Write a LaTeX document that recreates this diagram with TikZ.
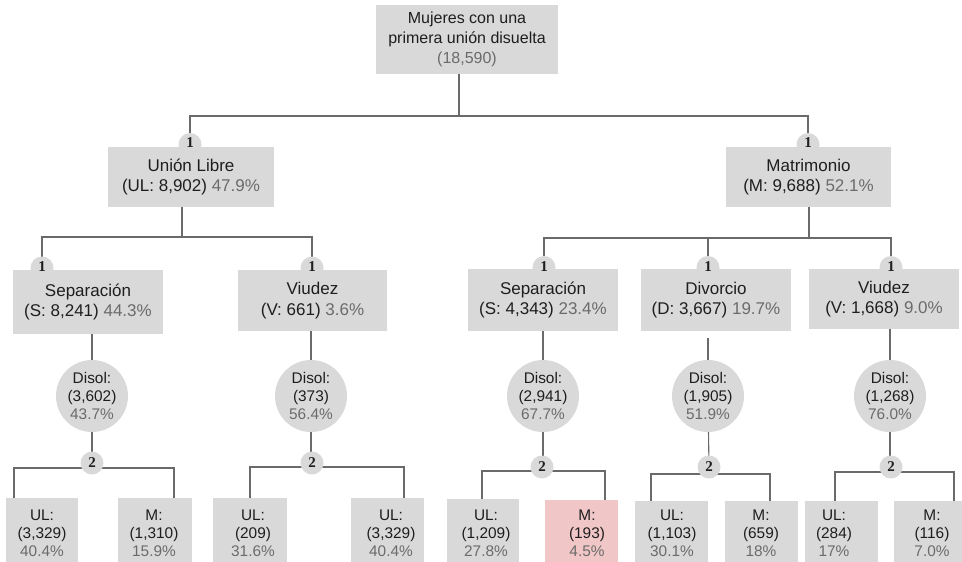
\documentclass[tikz,border=0pt]{standalone}
\usepackage{fontspec}
\setmainfont{Liberation Sans}
\newfontfamily\badgefont{Liberation Serif}
\usetikzlibrary{backgrounds}
\definecolor{boxg}{HTML}{D9D9D9}
\definecolor{pctg}{HTML}{6B6B6B}
\definecolor{pinkb}{HTML}{F0C6C6}
\definecolor{lineg}{HTML}{6A6A6A}
\definecolor{txt}{HTML}{1E1E1E}
\newcommand\pctxt[1]{\textcolor{pctg}{#1}}
\newcommand\ftop{\fontsize{16}{20}\selectfont}
\newcommand\fmid{\fontsize{17}{20.5}\selectfont}
\newcommand\fsmall{\fontsize{15.4}{18}\selectfont}
\newcommand\fbadge{\fontsize{15}{15}\badgefont\bfseries\selectfont}
\begin{document}
\begin{tikzpicture}[x=1pt,y=-1pt,
  conn/.style={draw=lineg, line width=1.1pt},
  gbox/.style={fill=boxg, inner sep=0pt, align=center, text=txt},
  topbox/.style={gbox, font=\ftop},
  midbox/.style={gbox, font=\fmid, minimum height=#1},
  disol/.style={circle, fill=boxg, inner sep=0pt, minimum size=72pt, align=center, text=txt, font=\fsmall},
  badge/.style={circle, fill=boxg, inner sep=0pt, minimum size=23pt, text=txt, font=\fbadge},
  leafbox/.style={fill=boxg, inner sep=0pt},
  leaftxt/.style={inner sep=0pt, align=center, text=txt, font=\fsmall},
]
\useasboundingbox (0,0) rectangle (962,562);

% ---------- top and level 1 ----------
\node[topbox, minimum width=182pt, minimum height=69pt] (top) at (467,39.5)
  {Mujeres con una\\primera unión disuelta\\\pctxt{(18,590)}};
\node[midbox=60pt, minimum width=166pt] (ul) at (191,177)
  {Unión Libre\\(UL: 8,902) \pctxt{47.9\%}};
\node[midbox=60pt, minimum width=165pt] (mat) at (808.5,177)
  {Matrimonio\\(M: 9,688) \pctxt{52.1\%}};
\node[badge] (b-ul) at (190,144.5) {\raisebox{3pt}{1}};
\node[badge] (b-mat) at (808,144.5) {\raisebox{3pt}{1}};

% ---------- level 2 ----------
\node[midbox=64pt, minimum width=150pt] (sepL) at (88,302)
  {Separación\\(S: 8,241) \pctxt{44.3\%}};
\node[midbox=61pt, minimum width=149pt] (viuL) at (312.5,300.5)
  {Viudez\\(V: 661) \pctxt{3.6\%}};
\node[midbox=62pt, minimum width=150pt] (sepR) at (543,300)
  {Separación\\(S: 4,343) \pctxt{23.4\%}};
\node[midbox=62pt, minimum width=150pt] (div) at (716,300)
  {Divorcio\\(D: 3,667) \pctxt{19.7\%}};
\node[midbox=60pt, minimum width=150pt] (viuR) at (884,299)
  {Viudez\\(V: 1,668) \pctxt{9.0\%}};
\node[badge] (b-sepL) at (42,268) {\raisebox{2pt}{1}};
\node[badge] (b-viuL) at (312,268) {\raisebox{2pt}{1}};
\node[badge] (b-sepR) at (544,267.5) {\raisebox{2pt}{1}};
\node[badge] (b-div) at (708,267.5) {\raisebox{2pt}{1}};
\node[badge] (b-viuR) at (891,267.5) {\raisebox{2pt}{1}};

% ---------- dissolution circles ----------
\node[disol] (d1) at (92,396) {Disol:\\(3,602)\\\pctxt{43.7\%}};
\node[disol] (d2) at (311,396) {Disol:\\(373)\\\pctxt{56.4\%}};
\node[disol] (d3) at (543,396) {Disol:\\(2,941)\\\pctxt{67.7\%}};
\node[disol] (d4) at (708,396) {Disol:\\(1,905)\\\pctxt{51.9\%}};
\node[disol] (d5) at (890,396) {Disol:\\(1,268)\\\pctxt{76.0\%}};

\node[badge] (c1) at (92,463) {2};
\node[badge] (c2) at (312,463) {2};
\node[badge] (c3) at (542,467) {2};
\node[badge] (c4) at (709,467) {2};
\node[badge] (c5) at (891,467) {2};

% ---------- leaves ----------
\node[leafbox, minimum width=72pt, minimum height=64pt] (g1a) at (42,530) {};
\node[leafbox, minimum width=74pt, minimum height=64pt] (g1b) at (155,530) {};
\node[leafbox, minimum width=74pt, minimum height=64pt] (g2a) at (250,530) {};
\node[leafbox, minimum width=73pt, minimum height=64pt] (g2b) at (387.5,530) {};
\node[leafbox, minimum width=72pt, minimum height=63pt] (g3a) at (483,530.5) {};
\node[leafbox, fill=pinkb, minimum width=73pt, minimum height=62pt] (g3b) at (581.5,531) {};
\node[leafbox, minimum width=73pt, minimum height=61pt] (g4a) at (671.5,531.5) {};
\node[leafbox, minimum width=73pt, minimum height=61pt] (g4b) at (761.5,531.5) {};
\node[leafbox, minimum width=73pt, minimum height=61pt] (g5a) at (841.5,531.5) {};
\node[leafbox, minimum width=68pt, minimum height=61pt] (g5b) at (928,531.5) {};

\node[leaftxt] (t1a) at (42,533) {UL:\\(3,329)\\\pctxt{40.4\%}};
\node[leaftxt] (t1b) at (154,533) {M:\\(1,310)\\\pctxt{15.9\%}};
\node[leaftxt] (t2a) at (253,533) {UL:\\(209)\\\pctxt{31.6\%}};
\node[leaftxt] (t2b) at (391,533) {UL:\\(3,329)\\\pctxt{40.4\%}};
\node[leaftxt] (t3a) at (486,533) {UL:\\(1,209)\\\pctxt{27.8\%}};
\node[leaftxt] (t3b) at (587,533) {M:\\(193)\\\pctxt{4.5\%}};
\node[leaftxt] (t4a) at (672,533) {UL:\\(1,103)\\\pctxt{30.1\%}};
\node[leaftxt] (t4b) at (761,533) {M:\\(659)\\\pctxt{18\%}};
\node[leaftxt] (t5a) at (834,533) {UL:\\(284)\\\pctxt{17\%}};
\node[leaftxt] (t5b) at (932,533) {M:\\(116)\\\pctxt{7.0\%}};

% ---------- junction points ----------
\coordinate (j0) at (459,116);
\coordinate (j1) at (182,237);
\coordinate (j2) at (809,238);
\coordinate (dgap) at (708,338);
\coordinate (h1l) at (14,468);  \coordinate (h1r) at (174,468);
\coordinate (h2l) at (250,467); \coordinate (h2r) at (404,467);
\coordinate (h3l) at (482,471); \coordinate (h3r) at (605,471);
\coordinate (h4l) at (651,474); \coordinate (h4r) at (770,474);
\coordinate (h5l) at (835,472); \coordinate (h5r) at (954,472);

% ---------- connectors (behind) ----------
\begin{scope}[on background layer]
\draw[conn] (top.south -| j0) -- (j0);
\draw[conn] (b-ul.center) |- (j0) -| (b-mat.center);
\draw[conn] (ul.south -| j1) -- (j1);
\draw[conn] (b-sepL.center) |- (j1) -| (b-viuL.center);
\draw[conn] (mat.south -| j2) -- (j2);
\draw[conn] (b-sepR.center) |- (j2) -| (b-viuR.center);
\draw[conn] (b-div.center) -- (b-div.center |- j2);

\draw[conn] (sepL.south -| d1) -- (d1.center);
\draw[conn] (viuL.south -| d2) -- (d2.center);
\draw[conn] (sepR.south -| d3) -- (d3.center);
\draw[conn] (dgap) -- (d4.center);
\draw[conn] (viuR.south -| d5) -- (d5.center);

\draw[conn] (d1.center) -- (c1.center);
\draw[conn] (d2.center) -- (d2.center |- c2.center);
\draw[conn] (d3.center) -- (d3.center |- c3.center);
\draw[conn] (d4.center) -- (c4.center);
\draw[conn] (d5.center) -- (d5.center |- c5.center);

\draw[conn] (g1a.north -| h1l) -- (h1l) -- (h1r) -- (g1b.north -| h1r);
\draw[conn] (g2a.north -| h2l) -- (h2l) -- (h2r) -- (g2b.north -| h2r);
\draw[conn] (g3a.north -| h3l) -- (h3l) -- (h3r) -- (g3b.north -| h3r);
\draw[conn] (g4a.north -| h4l) -- (h4l) -- (h4r) -- (g4b.north -| h4r);
\draw[conn] (g5a.north -| h5l) -- (h5l) -- (h5r) -- (g5b.north -| h5r);
\end{scope}
\end{tikzpicture}
\end{document}
